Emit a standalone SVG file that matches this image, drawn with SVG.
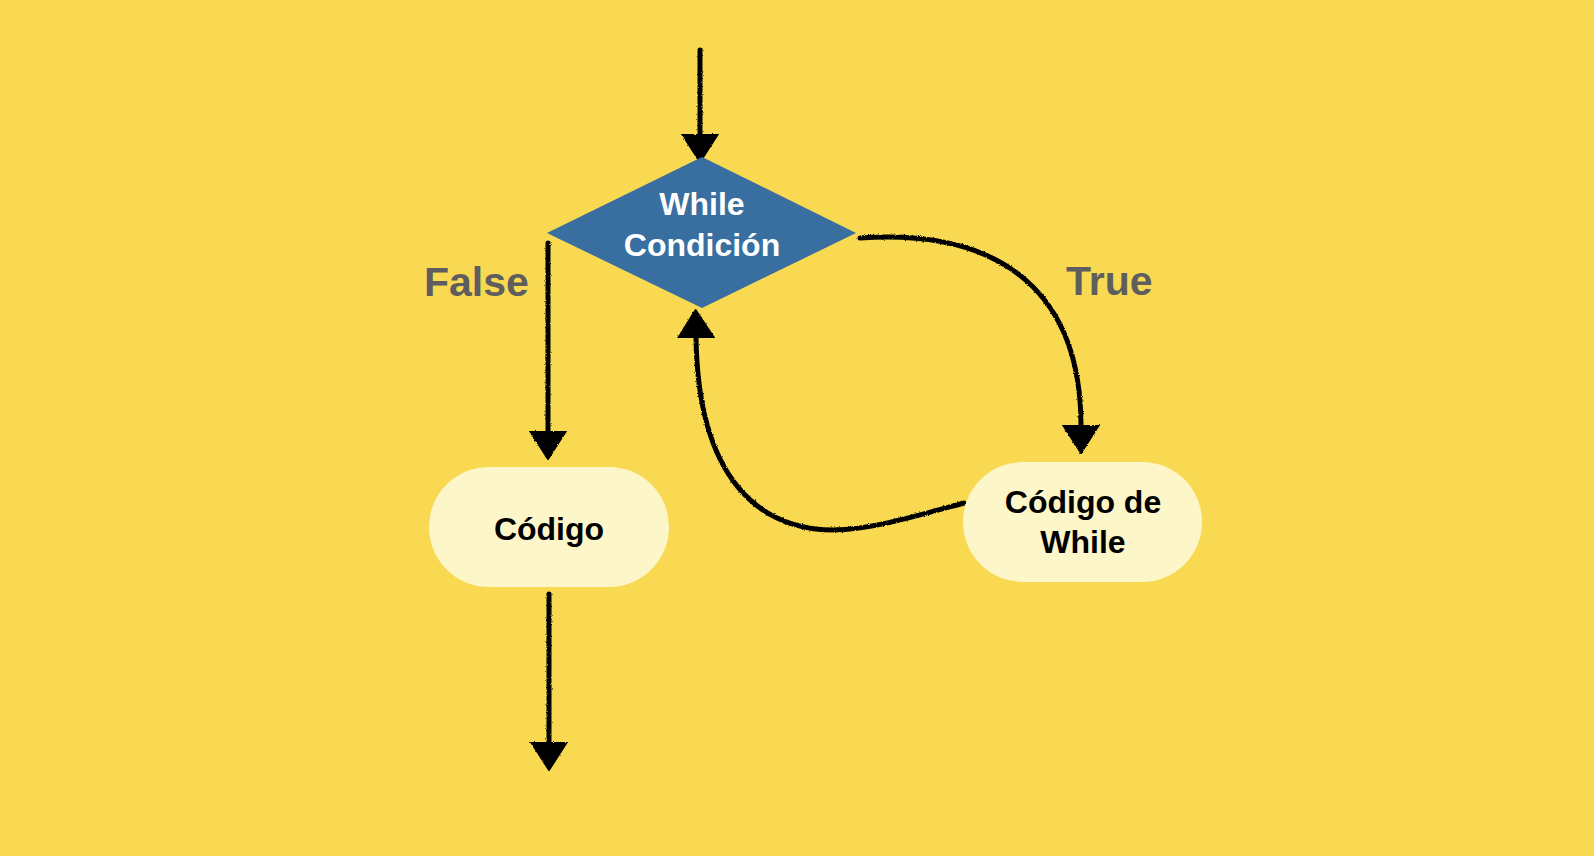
<svg xmlns="http://www.w3.org/2000/svg" width="1594" height="856" viewBox="0 0 1594 856">
  <style>
    .bg { fill: #f9d852; }
    .pill { fill: #fdf6c9; }
    .dia { fill: #386fa0; }
    .t { font-family: "Liberation Sans", Arial, sans-serif; font-weight: bold; text-anchor: middle; }
    .node { font-size: 32px; fill: #000; }
    .wnode { font-size: 32px; fill: #fff; }
    .lbl { font-size: 41px; fill: #5e5e5e; text-anchor: start; }
    .conn { fill: none; stroke: #000; stroke-width: 5; stroke-linecap: round; marker-end: url(#head); }
  </style>
  <defs>
    <filter id="rough" filterUnits="userSpaceOnUse" x="0" y="0" width="1594" height="856">
      <feTurbulence type="fractalNoise" baseFrequency="0.9" numOctaves="2" seed="3" result="n"/>
      <feDisplacementMap in="SourceGraphic" in2="n" scale="2.5" xChannelSelector="R" yChannelSelector="G"/>
    </filter>
    <marker id="head" markerUnits="userSpaceOnUse" viewBox="0 0 30 38" markerWidth="30" markerHeight="38" refX="1" refY="19" orient="auto">
      <path d="M0,1 L28,19 L0,37 Z" fill="#000" stroke="#000" stroke-width="2" stroke-linejoin="round"/>
    </marker>
  </defs>
  <rect class="bg" x="0" y="0" width="1594" height="856"/>

  <g id="connectors" filter="url(#rough)">
    <path id="c-start" class="conn" d="M700,50 L700,135"/>
    <path id="c-false" class="conn" d="M548,243 L548,432"/>
    <path id="c-end" class="conn" d="M549,594 L549,743"/>
    <path id="c-true" class="conn" d="M860,238 C1010,228 1081,300 1081,426"/>
    <path id="c-loop" class="conn" d="M964,503 C920,515 870,530 834,530 C760,530 698,480 696,337"/>
  </g>

  <g id="node-while">
    <polygon class="dia" points="547,233 702,157 856,233 702,308"/>
    <text class="t wnode" x="702" y="215">While</text>
    <text class="t wnode" x="702" y="256">Condición</text>
  </g>

  <g id="node-codigo">
    <rect class="pill" x="429" y="467" width="240" height="120" rx="60"/>
    <text class="t node" x="549" y="540">Código</text>
  </g>

  <g id="node-codigo-while">
    <rect class="pill" x="963" y="462" width="239" height="120" rx="60"/>
    <text class="t node" x="1083" y="513">Código de</text>
    <text class="t node" x="1083" y="553">While</text>
  </g>

  <g id="label-false">
    <text class="t lbl" x="424" y="296">False</text>
  </g>
  <g id="label-true">
    <text class="t lbl" x="1066" y="295">True</text>
  </g>
</svg>
